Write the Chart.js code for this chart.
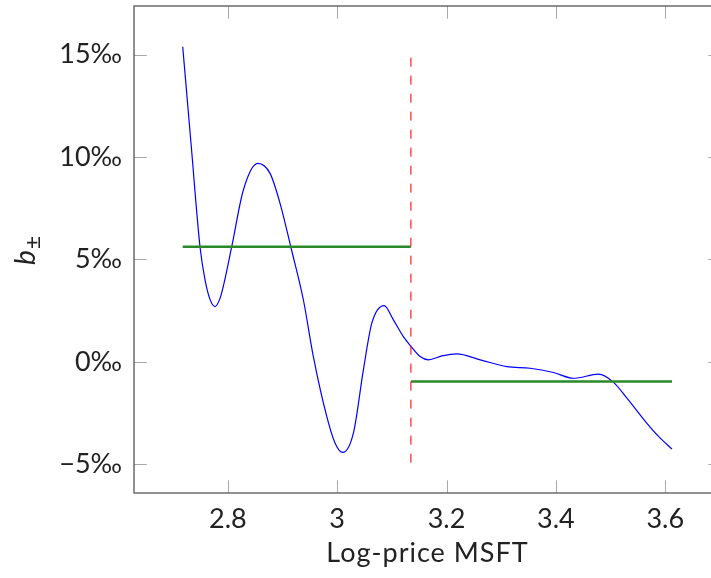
<!DOCTYPE html>
<html>
<head>
<meta charset="utf-8">
<script src="https://cdn.jsdelivr.net/npm/chart.js@4.4.1/dist/chart.umd.min.js"></script>
<style>
  html, body { margin: 0; padding: 0; background: #fff; overflow: hidden; }
  canvas { display: block; }
</style>
</head>
<body>
<canvas id="myChart" width="730" height="578"></canvas>
<script>
// log-price of MSFT and the estimated b (per mille)
const logPrice = [2.7175, 2.7332, 2.7491, 2.7583, 2.7674, 2.7766, 2.7857, 2.7918, 2.8071, 2.8284,
    2.8547, 2.8772, 2.8955, 2.9151, 2.9382, 2.9564, 2.981, 2.9962, 3.0102, 3.0296,
    3.0479, 3.0633, 3.0858, 3.1028, 3.1211, 3.1352, 3.1517, 3.1669, 3.1914, 3.2188,
    3.2615, 3.3103, 3.353, 3.3956, 3.4322, 3.4779, 3.5054, 3.5299, 3.5665, 3.5877,
    3.6123];
const bValues = [15.38, 10.5, 5.62, 4.0, 3.05, 2.7, 3.1, 3.7, 5.62, 8.39,
    9.69, 9.2, 7.74, 5.62, 3.02, 0.26, -2.67, -3.97, -4.42, -3.48,
    -0.39, 1.89, 2.75, 2.05, 1.23, 0.75, 0.26, 0.1, 0.29, 0.39,
    0.1, -0.23, -0.31, -0.52, -0.8, -0.6, -1.0, -1.77, -3.0, -3.64,
    -4.26];

// split point and the two mean levels
const splitX = 3.1347;
const splitRange = [14.85, -5.0];
const leftLevel = 5.62;
const rightLevel = -0.96;

const xTicks = [2.8, 3, 3.2, 3.4, 3.6];
const yTicks = [-5, 0, 5, 10, 15];

const curve = logPrice.map((x, i) => ({ x: x, y: bValues[i] }));
const xFirst = logPrice[0];
const xLast = logPrice[logPrice.length - 1];

const font = "Lato, 'Open Sans', sans-serif";

const frame = {
    id: 'frame',
    afterDatasetsDraw(chart) {
        const { ctx, chartArea: a, scales } = chart;
        const len = 12.7;
        ctx.save();
        ctx.strokeStyle = '#a8a8a8';
        ctx.lineWidth = 1;
        ctx.beginPath();
        xTicks.forEach(v => {
            const px = Math.round(scales.x.getPixelForValue(v)) + 0.5;
            ctx.moveTo(px, a.bottom); ctx.lineTo(px, a.bottom - len);
            ctx.moveTo(px, a.top); ctx.lineTo(px, a.top + len);
        });
        yTicks.forEach(v => {
            const py = Math.round(scales.y.getPixelForValue(v)) + 0.5;
            ctx.moveTo(a.left, py); ctx.lineTo(a.left + len, py);
            ctx.moveTo(a.right, py); ctx.lineTo(a.right - len, py);
        });
        ctx.stroke();
        ctx.strokeStyle = '#555';
        ctx.lineWidth = 1.3;
        ctx.strokeRect(a.left, a.top, a.right - a.left, a.bottom - a.top);

        // axis titles
        ctx.fillStyle = '#222';
        ctx.font = '27px ' + font;
        ctx.textAlign = 'center';
        ctx.textBaseline = 'alphabetic';
        ctx.letterSpacing = '1px';
        ctx.fillText('Log-price MSFT', (a.left + a.right) / 2, 562);
        ctx.letterSpacing = '0px';

        ctx.translate(35, 265);
        ctx.rotate(-Math.PI / 2);
        ctx.textAlign = 'left';
        ctx.font = 'italic 28px ' + font;
        ctx.fillText('b', 0, 0);
        const w = ctx.measureText('b').width;
        ctx.font = '23px ' + font;
        ctx.fillText('\u00b1', w + 1, 6);
        ctx.restore();
    }
};

const data = {
    datasets: [{
        data: curve,
        borderColor: '#0000ff',
        borderWidth: 1.2,
        cubicInterpolationMode: 'monotone',
        pointRadius: 0,
        showLine: true,
        order: 2
    }, {
        data: [{ x: xFirst, y: leftLevel }, { x: splitX, y: leftLevel }],
        borderColor: '#2a8a2a',
        borderWidth: 2.4,
        pointRadius: 0,
        showLine: true,
        order: 1
    }, {
        data: [{ x: splitX, y: rightLevel }, { x: xLast, y: rightLevel }],
        borderColor: '#2a8a2a',
        borderWidth: 2.4,
        pointRadius: 0,
        showLine: true,
        order: 1
    }, {
        data: [{ x: splitX, y: splitRange[0] }, { x: splitX, y: splitRange[1] }],
        borderColor: 'rgba(255,0,0,0.7)',
        borderWidth: 1.5,
        borderDash: [9, 9],
        pointRadius: 0,
        showLine: true,
        order: 0
    }]
};

const config = {
    type: 'scatter',
    data,
    options: {
        responsive: false,
        animation: false,
        layout: { padding: { top: 6, right: 9, left: 0, bottom: 0 } },
        plugins: { legend: { display: false }, tooltip: { enabled: false } },
        scales: {
            x: {
                type: 'linear',
                min: 2.6284,
                max: 3.7019,
                afterBuildTicks: s => { s.ticks = xTicks.map(v => ({ value: v })); },
                afterFit: s => { s.height = 85; s.paddingLeft = 0; s.paddingRight = 0; },
                grid: { display: false, drawTicks: false },
                border: { display: false },
                ticks: {
                    padding: 10,
                    color: '#222',
                    font: { family: font, size: 27 },
                    maxRotation: 0,
                    callback: v => String(Math.round(v * 10) / 10)
                }
            },
            y: {
                type: 'linear',
                min: -6.4,
                max: 17.37,
                afterBuildTicks: s => { s.ticks = yTicks.map(v => ({ value: v })); },
                afterFit: s => { s.width = 134; s.paddingTop = 0; s.paddingBottom = 0; },
                grid: { display: false, drawTicks: false },
                border: { display: false },
                ticks: {
                    padding: 12,
                    color: '#222',
                    font: { family: font, size: 27 },
                    callback: v => (v < 0 ? '\u2212' + Math.abs(v) : v) + '\u2030'
                }
            }
        }
    },
    plugins: [frame]
};

const myChart = new Chart(document.getElementById('myChart'), config);
</script>
</body>
</html>
